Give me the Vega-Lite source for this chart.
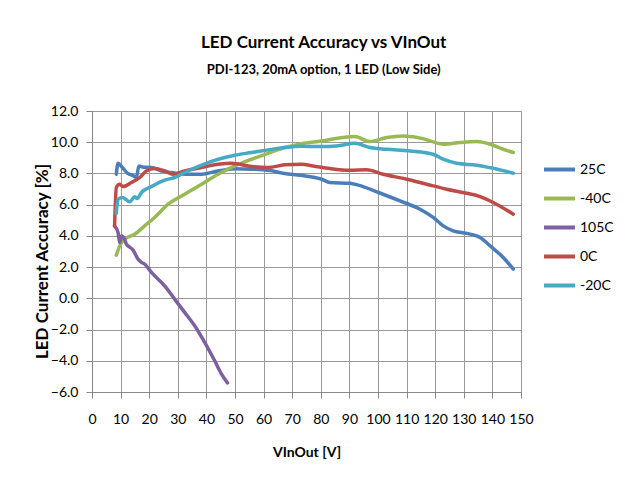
{
  "$schema": "https://vega.github.io/schema/vega-lite/v6.json",
  "width": 429,
  "height": 281,
  "autosize": {"type": "none"},
  "padding": {"left": 92, "top": 111, "right": 106, "bottom": 99},
  "background": "white",
  "title": {
    "text": "LED Current Accuracy  vs VInOut",
    "subtitle": "PDI-123, 20mA option, 1 LED (Low Side)",
    "anchor": "middle",
    "frame": "bounds",
    "font": "Lato",
    "fontSize": 17,
    "fontWeight": "bold",
    "color": "#000000",
    "subtitleFont": "Lato",
    "subtitleFontSize": 13,
    "subtitleFontWeight": "bold",
    "subtitleColor": "#000000",
    "subtitlePadding": 12,
    "offset": 26
  },
  "data": {
    "values": [
      {"s": "25C", "v": 8.5, "a": 7.95}, {"s": "25C", "v": 9.1, "a": 8.65}, {"s": "25C", "v": 10.5, "a": 8.4}, {"s": "25C", "v": 12.5, "a": 8.0}, {"s": "25C", "v": 14.5, "a": 7.85}, {"s": "25C", "v": 15.5, "a": 7.74}, {"s": "25C", "v": 16.4, "a": 8.48}, {"s": "25C", "v": 18.0, "a": 8.4}, {"s": "25C", "v": 20.8, "a": 8.38}, {"s": "25C", "v": 24.3, "a": 8.16}, {"s": "25C", "v": 27.8, "a": 8.06}, {"s": "25C", "v": 32.4, "a": 7.95}, {"s": "25C", "v": 38.3, "a": 7.95}, {"s": "25C", "v": 44.0, "a": 8.16}, {"s": "25C", "v": 49.9, "a": 8.3}, {"s": "25C", "v": 55.8, "a": 8.27}, {"s": "25C", "v": 61.6, "a": 8.2}, {"s": "25C", "v": 67.4, "a": 8.0}, {"s": "25C", "v": 73.0, "a": 7.88}, {"s": "25C", "v": 80.3, "a": 7.63}, {"s": "25C", "v": 83.2, "a": 7.42}, {"s": "25C", "v": 90.2, "a": 7.37}, {"s": "25C", "v": 93.1, "a": 7.25}, {"s": "25C", "v": 100.2, "a": 6.78}, {"s": "25C", "v": 107.7, "a": 6.24}, {"s": "25C", "v": 114.7, "a": 5.71}, {"s": "25C", "v": 119.3, "a": 5.18}, {"s": "25C", "v": 122.8, "a": 4.64}, {"s": "25C", "v": 126.3, "a": 4.32}, {"s": "25C", "v": 131.0, "a": 4.16}, {"s": "25C", "v": 135.7, "a": 3.9}, {"s": "25C", "v": 139.2, "a": 3.36}, {"s": "25C", "v": 143.8, "a": 2.62}, {"s": "25C", "v": 147.3, "a": 1.87},

      {"s": "-40C", "v": 8.5, "a": 2.77}, {"s": "-40C", "v": 9.7, "a": 3.36}, {"s": "-40C", "v": 11.4, "a": 3.79}, {"s": "-40C", "v": 14.9, "a": 4.1}, {"s": "-40C", "v": 18.4, "a": 4.64}, {"s": "-40C", "v": 21.9, "a": 5.18}, {"s": "-40C", "v": 26.6, "a": 6.03}, {"s": "-40C", "v": 32.4, "a": 6.67}, {"s": "-40C", "v": 38.3, "a": 7.31}, {"s": "-40C", "v": 44.1, "a": 7.95}, {"s": "-40C", "v": 49.9, "a": 8.48}, {"s": "-40C", "v": 55.8, "a": 8.91}, {"s": "-40C", "v": 61.6, "a": 9.29}, {"s": "-40C", "v": 67.4, "a": 9.66}, {"s": "-40C", "v": 73.3, "a": 9.91}, {"s": "-40C", "v": 80.3, "a": 10.08}, {"s": "-40C", "v": 87.8, "a": 10.3}, {"s": "-40C", "v": 91.9, "a": 10.36}, {"s": "-40C", "v": 97.2, "a": 10.04}, {"s": "-40C", "v": 103.0, "a": 10.3}, {"s": "-40C", "v": 108.8, "a": 10.4}, {"s": "-40C", "v": 115.8, "a": 10.23}, {"s": "-40C", "v": 119.3, "a": 10.02}, {"s": "-40C", "v": 122.8, "a": 9.87}, {"s": "-40C", "v": 128.7, "a": 9.98}, {"s": "-40C", "v": 134.5, "a": 10.04}, {"s": "-40C", "v": 139.2, "a": 9.87}, {"s": "-40C", "v": 143.8, "a": 9.55}, {"s": "-40C", "v": 147.3, "a": 9.34},

      {"s": "105C", "v": 7.9, "a": 4.64}, {"s": "105C", "v": 9.1, "a": 4.22}, {"s": "105C", "v": 9.7, "a": 3.58}, {"s": "105C", "v": 10.3, "a": 4.0}, {"s": "105C", "v": 11.4, "a": 3.79}, {"s": "105C", "v": 12.0, "a": 3.47}, {"s": "105C", "v": 12.6, "a": 3.36}, {"s": "105C", "v": 14.3, "a": 3.1}, {"s": "105C", "v": 16.1, "a": 2.51}, {"s": "105C", "v": 17.3, "a": 2.3}, {"s": "105C", "v": 18.4, "a": 2.19}, {"s": "105C", "v": 20.8, "a": 1.66}, {"s": "105C", "v": 25.4, "a": 0.8}, {"s": "105C", "v": 28.9, "a": -0.05}, {"s": "105C", "v": 32.4, "a": -0.9}, {"s": "105C", "v": 35.9, "a": -1.76}, {"s": "105C", "v": 39.4, "a": -2.82}, {"s": "105C", "v": 42.9, "a": -4.0}, {"s": "105C", "v": 45.3, "a": -4.85}, {"s": "105C", "v": 47.4, "a": -5.42},

      {"s": "0C", "v": 7.9, "a": 4.64}, {"s": "0C", "v": 8.5, "a": 7.1}, {"s": "0C", "v": 9.7, "a": 7.31}, {"s": "0C", "v": 10.8, "a": 7.16}, {"s": "0C", "v": 13.8, "a": 7.42}, {"s": "0C", "v": 16.7, "a": 7.74}, {"s": "0C", "v": 19.0, "a": 8.16}, {"s": "0C", "v": 21.9, "a": 8.31}, {"s": "0C", "v": 25.4, "a": 8.16}, {"s": "0C", "v": 28.3, "a": 7.95}, {"s": "0C", "v": 32.4, "a": 8.16}, {"s": "0C", "v": 38.3, "a": 8.38}, {"s": "0C", "v": 44.1, "a": 8.59}, {"s": "0C", "v": 48.8, "a": 8.65}, {"s": "0C", "v": 55.8, "a": 8.44}, {"s": "0C", "v": 61.6, "a": 8.38}, {"s": "0C", "v": 67.4, "a": 8.55}, {"s": "0C", "v": 73.3, "a": 8.59}, {"s": "0C", "v": 77.3, "a": 8.48}, {"s": "0C", "v": 83.2, "a": 8.31}, {"s": "0C", "v": 90.2, "a": 8.2}, {"s": "0C", "v": 96.0, "a": 8.23}, {"s": "0C", "v": 101.8, "a": 7.95}, {"s": "0C", "v": 110.0, "a": 7.63}, {"s": "0C", "v": 117.0, "a": 7.31}, {"s": "0C", "v": 124.0, "a": 6.99}, {"s": "0C", "v": 131.0, "a": 6.73}, {"s": "0C", "v": 135.7, "a": 6.52}, {"s": "0C", "v": 140.3, "a": 6.14}, {"s": "0C", "v": 147.3, "a": 5.39},

      {"s": "-20C", "v": 8.5, "a": 5.45}, {"s": "-20C", "v": 9.1, "a": 6.35}, {"s": "-20C", "v": 10.8, "a": 6.46}, {"s": "-20C", "v": 13.2, "a": 6.18}, {"s": "-20C", "v": 14.9, "a": 6.5}, {"s": "-20C", "v": 15.8, "a": 6.4}, {"s": "-20C", "v": 17.3, "a": 6.78}, {"s": "-20C", "v": 20.8, "a": 7.16}, {"s": "-20C", "v": 25.4, "a": 7.57}, {"s": "-20C", "v": 28.9, "a": 7.74}, {"s": "-20C", "v": 32.4, "a": 8.06}, {"s": "-20C", "v": 38.3, "a": 8.53}, {"s": "-20C", "v": 44.1, "a": 8.91}, {"s": "-20C", "v": 49.9, "a": 9.17}, {"s": "-20C", "v": 55.8, "a": 9.34}, {"s": "-20C", "v": 61.6, "a": 9.51}, {"s": "-20C", "v": 67.4, "a": 9.66}, {"s": "-20C", "v": 73.3, "a": 9.74}, {"s": "-20C", "v": 80.3, "a": 9.72}, {"s": "-20C", "v": 85.5, "a": 9.76}, {"s": "-20C", "v": 91.9, "a": 9.93}, {"s": "-20C", "v": 97.2, "a": 9.66}, {"s": "-20C", "v": 103.0, "a": 9.55}, {"s": "-20C", "v": 111.2, "a": 9.44}, {"s": "-20C", "v": 119.3, "a": 9.23}, {"s": "-20C", "v": 122.8, "a": 8.91}, {"s": "-20C", "v": 127.5, "a": 8.65}, {"s": "-20C", "v": 134.5, "a": 8.53}, {"s": "-20C", "v": 140.3, "a": 8.33}, {"s": "-20C", "v": 147.3, "a": 8.01}
    ]
  },
  "mark": {"type": "line", "strokeWidth": 3.5, "interpolate": "monotone", "strokeCap": "round", "strokeJoin": "round"},
  "encoding": {
    "x": {
      "field": "v", "type": "quantitative",
      "scale": {"domain": [0, 150], "nice": false},
      "axis": {
        "values": [0, 10, 20, 30, 40, 50, 60, 70, 80, 90, 100, 110, 120, 130, 140, 150],
        "title": "VInOut [V]",
        "titleFont": "Lato", "titleFontSize": 14, "titleFontWeight": "bold", "titlePadding": 19,
        "labelFont": "Lato", "labelFontSize": 14, "labelPadding": 14, "labelColor": "#000000",
        "tickSize": 6, "tickColor": "#888888", "domainColor": "#888888",
        "grid": true, "gridColor": "#999999", "labelOverlap": false, "labelFlush": false
      }
    },
    "y": {
      "field": "a", "type": "quantitative",
      "scale": {"domain": [-6, 12], "nice": false},
      "axis": {
        "values": [-6, -4, -2, 0, 2, 4, 6, 8, 10, 12],
        "format": ".1f",
        "title": "LED Current Accuracy [%]",
        "titleFont": "Lato", "titleFontSize": 17, "titleFontWeight": "bold", "titlePadding": -1,
        "titleY": 150,
        "labelFont": "Lato", "labelFontSize": 14, "labelPadding": 8, "labelColor": "#000000",
        "tickSize": 6, "tickColor": "#888888", "domainColor": "#888888",
        "grid": true, "gridColor": "#999999", "labelFlush": false
      }
    },
    "color": {
      "field": "s", "type": "nominal",
      "scale": {"domain": ["25C", "-40C", "105C", "0C", "-20C"], "range": ["#4A7EBB", "#98B954", "#7D60A0", "#BE4B48", "#46AAC5"]},
      "legend": {
        "title": null, "orient": "none", "legendX": 450, "legendY": 41,
        "symbolType": "stroke", "symbolSize": 961, "symbolStrokeWidth": 4,
        "labelFont": "Lato", "labelFontSize": 14, "labelColor": "#000000", "labelOffset": 3,
        "rowPadding": 3
      }
    }
  },
  "config": {"view": {"stroke": "#888888"}}
}
